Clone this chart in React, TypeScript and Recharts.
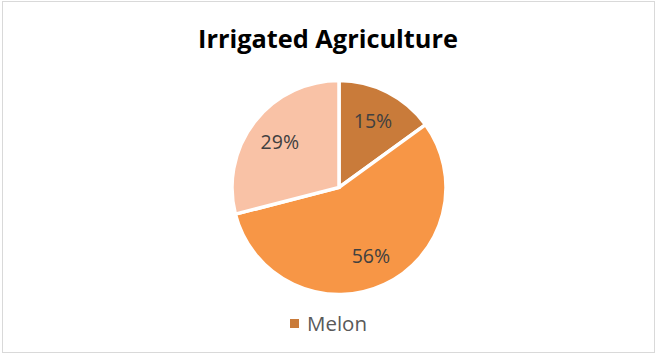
import React from 'react';
import { PieChart, Pie, Cell, Legend } from 'recharts';

const categories = ['Melon', 'Other A', 'Other B'];
const values = [15, 56, 29];
const colors = ['#C97B3A', '#F79646', '#F9C2A6'];

const data = categories.map((name, i) => ({ name, value: values[i] }));
const RAD = Math.PI / 180;

const renderLabel = (props: any) => {
  const { cx, cy, midAngle, outerRadius, percent } = props;
  const r = outerRadius * 0.7;
  const x = cx + r * Math.cos(-midAngle * RAD);
  const y = cy + r * Math.sin(-midAngle * RAD);
  return (
    <text x={x} y={y} fill="#404040" fontSize={19.5} fontFamily="'Open Sans', sans-serif" textAnchor="middle" dominantBaseline="central">
      {`${Math.round(percent * 100)}%`}
    </text>
  );
};

const LegendContent = () => (
  <div style={{ display: 'flex', justifyContent: 'center', alignItems: 'center', fontFamily: "'Open Sans', sans-serif", fontSize: 20.5, color: '#595959' }}>
    <span style={{ display: 'inline-block', width: 9, height: 9, background: colors[0], marginRight: 8 }} />
    <span>{categories[0]}</span>
  </div>
);

export default function App() {
  return (
    <div style={{ position: 'absolute', left: 0, top: 0, width: 657, height: 354, background: '#fff' }}>
      <div style={{ position: 'absolute', left: 2, top: 1, width: 651, height: 350, border: '1px solid #D9D9D9' }} />
      <svg width={657} height={60} style={{ position: 'absolute', left: 0, top: 0 }}>
        <text x={328} y={48} textAnchor="middle" fontFamily="'Open Sans', sans-serif" fontWeight="bold" fontSize={25} fill="#000" textLength={260} lengthAdjust="spacingAndGlyphs">
          Irrigated Agriculture
        </text>
      </svg>
      <div style={{ position: 'absolute', left: 0, top: 0 }}>
        <PieChart width={657} height={354}>
          <Pie
            data={data}
            dataKey="value"
            nameKey="name"
            cx={334}
            cy={182.5}
            outerRadius={107}
            startAngle={90}
            endAngle={-270}
            stroke="#fff"
            strokeWidth={3.5}
            label={renderLabel}
            labelLine={false}
            isAnimationActive={false}
          >
            {data.map((d, i) => (
              <Cell key={d.name} fill={colors[i]} />
            ))}
          </Pie>
          <Legend content={<LegendContent />} verticalAlign="bottom" wrapperStyle={{ bottom: 17 }} />
        </PieChart>
      </div>
    </div>
  );
}
